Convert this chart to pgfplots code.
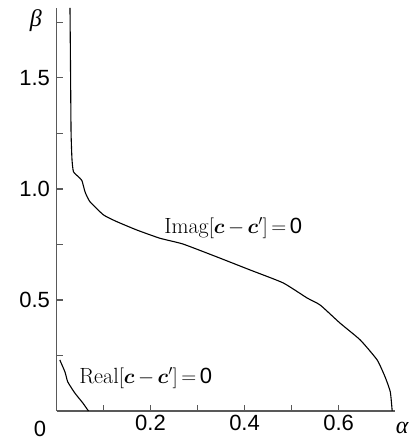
\documentclass[border=0pt]{standalone}
\usepackage{pgfplots}
\pgfplotsset{compat=1.18}
\usepackage{amsmath}
\usepackage{fontspec}
\setsansfont{Liberation Sans}
\newfontfamily\lserif{Liberation Serif}
\begin{document}
\begin{tikzpicture}
\begin{axis}[
  scale only axis, width=338.5pt, height=403pt,
  xmin=0, xmax=0.72, ymin=0, ymax=1.815,
  axis lines=left,
  axis line style={-, line width=1.3pt, black!65},
  tick align=inside,
  major tick style={line width=1.1pt, black!65},
  major tick length=6pt,
  xtick={0.1,0.2,0.3,0.4,0.5,0.6},
  xticklabels={,0.2,,0.4,,0.6},
  ytick={0.25,0.5,0.75,1.0,1.25,1.5,1.75},
  yticklabels={,0.5,,1.0,,1.5,},
  /pgf/number format/assume math mode=true,
  ticklabel style={font=\sffamily\fontsize{22}{22}\selectfont},
  xticklabel style={yshift=-1pt},
  yticklabel style={xshift=-3pt},
  clip=false,
]
% Imag[c-c'] = 0 branch
\addplot[black, line width=1.1pt, smooth, tension=0.3] coordinates {
  (0.0287,1.815) (0.030,1.50) (0.031,1.25) (0.033,1.131) (0.036,1.078)
  (0.046,1.056) (0.054,1.038) (0.061,0.985) (0.071,0.943) (0.100,0.883)
  (0.128,0.853) (0.171,0.815) (0.220,0.778) (0.269,0.752) (0.341,0.694)
  (0.412,0.635) (0.482,0.577) (0.533,0.509) (0.561,0.477) (0.603,0.396)
  (0.646,0.320) (0.682,0.230) (0.699,0.153) (0.710,0.086) (0.714,0.0)
};
% Real[c-c'] = 0 branch
\addplot[black, line width=1.1pt, smooth, tension=0.3] coordinates {
  (0.007,0.230) (0.018,0.176) (0.024,0.131) (0.039,0.081)
  (0.056,0.036) (0.068,0.0)
};
\node[anchor=base west, inner sep=0pt, font=\fontsize{22}{22}\selectfont]
  at (axis cs:0.229,0.80) {Imag$[\boldsymbol{c}\,{-}\,\boldsymbol{c}']\,{=}\,$\textsf{0}};
\node[anchor=base west, inner sep=0pt, font=\fontsize{22}{22}\selectfont]
  at (axis cs:0.048,0.126) {Real$[\boldsymbol{c}\,{-}\,\boldsymbol{c}']\,{=}\,$\textsf{0}};
\node[font=\lserif\itshape\fontsize{24}{24}\selectfont] at (axis cs:-0.044,1.757) {β};
\node[font=\lserif\itshape\fontsize{24}{24}\selectfont] at (axis cs:0.735,-0.078) {α};
\node[font=\sffamily\fontsize{22}{22}\selectfont] at (axis cs:-0.035,-0.080) {0};
\coordinate (sw) at (rel axis cs:0,0);
\coordinate (ne) at (rel axis cs:1,1);
\end{axis}
\pgfresetboundingbox
\path[use as bounding box] ([xshift=-56.5pt,yshift=-30pt]sw) rectangle ([xshift=19pt,yshift=8pt]ne);
\end{tikzpicture}
\end{document}
